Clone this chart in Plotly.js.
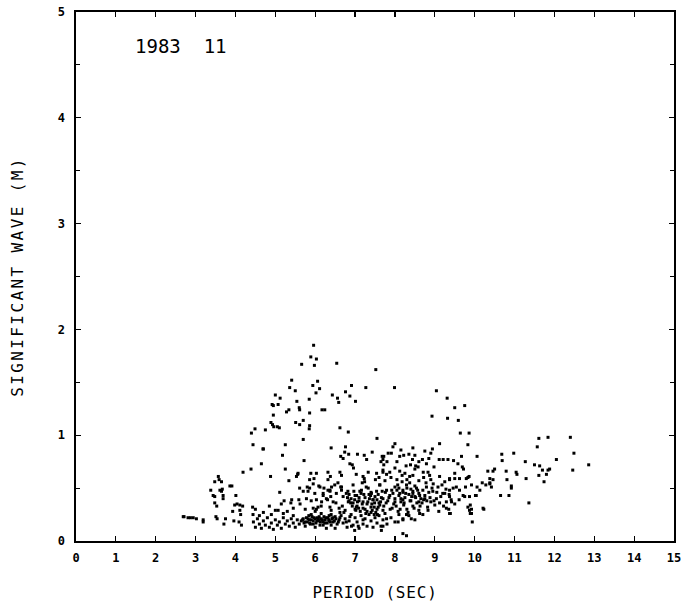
<!DOCTYPE html>
<html>
<head>
<meta charset="utf-8">
<script src="https://cdn.plot.ly/plotly-3.0.1.min.js"></script>
<style>
  html, body { margin: 0; padding: 0; background: #fff; }
  #chart { width: 681px; height: 602px; }
  .ytitle { letter-spacing: 2.4px; }
  .xtitle { letter-spacing: 0.8px; }
</style>
</head>
<body>
<div id="chart"></div>
<script>
// Period (s), significant wave height (m) pairs
const upperPoints = [
  [5.96,1.85],[5.89,1.74],[6.03,1.72],[5.66,1.67],[5.98,1.66],[6.54,1.68],[7.52,1.62],
  [5.41,1.52],[6.06,1.51],[5.94,1.47],[5.36,1.45],[5.50,1.42],[6.11,1.44],[6.02,1.40],
  [6.91,1.47],[7.27,1.45],[7.99,1.45],[6.76,1.41],[6.43,1.38],[6.56,1.35],[6.59,1.31],
  [6.87,1.37],[7.01,1.32],[5.00,1.38],[5.12,1.35],[4.92,1.29],[4.95,1.28],[5.07,1.29],
  [5.54,1.32],[5.85,1.34],[5.60,1.26],[5.61,1.24],[5.28,1.22],[5.34,1.24],[5.86,1.21],
  [6.17,1.24],[6.24,1.24],[4.95,1.19],[4.89,1.12],[4.93,1.10],[4.96,1.08],[5.05,1.08],
  [5.10,1.07],[5.51,1.12],[5.61,1.10],[5.70,1.14],[5.86,1.09],[5.85,1.06],[4.40,1.02],
  [4.49,1.06],[4.75,1.05],[6.62,1.07],[6.83,1.03],[5.70,0.96],[7.55,0.97],[9.04,1.42],
  [9.31,1.35],[9.50,1.26],[8.93,1.18],[9.32,1.16],[9.59,1.14],[9.64,1.02],[9.86,1.02],
  [9.83,0.91],[9.12,0.92],[4.44,0.91],[5.25,0.91],[6.40,0.88],[8.00,0.92],[9.75,1.28],
  [11.61,0.97],[11.84,0.98],[12.40,0.98],[10.06,0.80]
];

const leftPoints = [
  [2.69,0.23],[2.71,0.23],[2.81,0.22],[2.87,0.22],[2.94,0.22],[3.02,0.21],[3.19,0.20],
  [3.19,0.18],[3.48,0.56],[3.57,0.61],[3.59,0.58],[3.65,0.56],[3.38,0.48],[3.44,0.43],
  [3.48,0.42],[3.67,0.49],[3.65,0.47],[3.69,0.43],[3.69,0.40],[3.86,0.52],[3.48,0.36],
  [3.53,0.33],[3.51,0.23],[3.54,0.21],[3.75,0.21],[3.71,0.16],[4.01,0.43],[3.98,0.34],
  [4.04,0.35],[4.11,0.34],[4.18,0.33],[3.93,0.28],[4.11,0.29],[4.13,0.25],[3.96,0.19],
  [4.09,0.18],[4.15,0.15],[4.43,0.32],[4.44,0.25],[4.19,0.65],[4.39,0.68],[4.65,0.73],
  [4.69,0.87],[4.88,0.61],[5.18,0.81],[5.25,0.68],[5.56,0.63],[5.11,0.46],[5.34,0.57],
  [5.41,0.39],[5.39,0.36],[3.91,0.52],[3.61,0.48],[4.70,0.87],[5.72,0.76],[5.22,0.38],
  [5.57,0.64],[5.53,0.61],[4.50,0.30],[4.70,0.27],[4.85,0.33],[5.00,0.29],[5.15,0.35],
  [5.30,0.28],[5.45,0.31]
];

const middlePoints = [
  [5.89,0.64],[6.03,0.64],[5.97,0.59],[5.86,0.58],[6.32,0.65],[6.32,0.58],[6.76,0.89],
  [6.74,0.84],[6.64,0.80],[6.70,0.78],[6.84,0.82],[6.87,0.73],[6.93,0.72],[6.96,0.69],
  [7.06,0.82],[7.23,0.81],[7.29,0.77],[7.43,0.84],[7.68,0.80],[7.70,0.77],[7.70,0.67],
  [6.62,0.65],[6.66,0.62],[6.57,0.55],[6.64,0.51],[6.66,0.48],[6.41,0.51],[6.37,0.47],
  [6.39,0.42],[6.31,0.39],[6.45,0.37],[6.37,0.32],[6.32,0.48],[5.86,0.50],[5.82,0.47],
  [5.99,0.45],[6.03,0.39],[6.16,0.37],[6.07,0.32],[5.95,0.31],[6.03,0.30],[6.09,0.52],
  [6.22,0.50],[6.20,0.43],[5.61,0.50],[5.70,0.47],[5.59,0.39],[5.78,0.40],[5.07,0.29],
  [6.81,0.41],[6.83,0.37],[6.89,0.36],[6.99,0.39],[7.03,0.32],[7.09,0.31],[7.12,0.47],
  [7.18,0.55],[7.23,0.59],[7.24,0.56],[7.33,0.50],[7.39,0.43],[7.45,0.39],[7.49,0.36],
  [7.58,0.32],[7.51,0.58],[7.62,0.53],[7.68,0.47],[7.70,0.40],[7.64,0.37],[7.43,0.29],
  [7.48,0.25],[7.56,0.25],
  [10.33,0.66],[10.28,0.53],[10.38,0.55],[7.95,0.89],[7.91,0.83],[7.83,0.83],[7.72,0.80],
  [7.80,0.75],[7.72,0.72],[8.12,0.80],[8.22,0.81],[8.35,0.82],[8.50,0.81],[8.44,0.77],
  [8.39,0.72],[8.52,0.71],[8.69,0.77],[8.79,0.73],[8.85,0.78],[8.90,0.83],[8.94,0.87],
  [9.11,0.77],[9.21,0.77],[9.33,0.77],[9.47,0.76],[9.58,0.73],[9.69,0.70],[9.72,0.68],
  [9.67,0.80],[7.70,0.65],[7.79,0.63],[7.87,0.65],[8.00,0.69],[8.12,0.66],[8.25,0.64],
  [8.37,0.61],[8.50,0.68],[8.58,0.70],[8.71,0.65],[8.83,0.65],[8.87,0.62],[8.96,0.54],
  [9.12,0.61],[9.25,0.56],[9.37,0.59],[9.50,0.64],[9.62,0.59],[9.79,0.59],[9.86,0.61],
  [9.77,0.51],[9.92,0.53],[10.06,0.51],[10.13,0.48],[9.62,0.48],[9.71,0.43],[9.87,0.42],
  [10.04,0.43],[9.83,0.32],[9.87,0.29],[9.92,0.26],[10.21,0.31],[9.37,0.26],[9.29,0.31],
  [9.12,0.36],[9.04,0.40],[9.37,0.42],[9.42,0.37],[8.70,0.25],[8.62,0.26],[8.41,0.21],
  [8.29,0.25],[8.08,0.18],[8.20,0.20],[7.79,0.21],[7.70,0.14],[7.66,0.10],[8.20,0.07],
  [8.29,0.05]
];

const rightPoints = [
  [10.68,0.82],[10.98,0.83],[10.69,0.76],[11.27,0.75],[11.57,0.89],[12.49,0.83],[12.05,0.77],
  [12.46,0.67],[12.86,0.72],[11.50,0.72],[11.63,0.71],[11.70,0.67],[11.84,0.67],[11.88,0.68],
  [11.61,0.62],[11.80,0.63],[11.74,0.56],[10.46,0.66],[10.50,0.68],[10.79,0.66],[11.04,0.65],
  [11.06,0.63],[10.81,0.58],[11.29,0.59],[10.38,0.59],[10.46,0.58],[10.19,0.55],[10.38,0.54],
  [10.42,0.51],[10.92,0.52],[10.92,0.50],[10.86,0.43],[11.36,0.36],[10.65,0.43],[10.23,0.30],
  [9.94,0.18],[9.25,0.45],[9.36,0.44],[9.46,0.50],[9.61,0.39],[9.75,0.42],[9.89,0.34],
  [9.92,0.30],[10.02,0.43],[9.41,0.39],[9.29,0.37],[9.39,0.26],[9.89,0.26],[9.37,0.58],
  [9.50,0.59],[9.83,0.60]
];

const corePoints = [
  [6.38,0.61],[7.03,0.63],[7.20,0.61],[7.33,0.65],[7.54,0.64],
  [5.80,0.51],[5.95,0.54],[6.12,0.51],[6.20,0.45],[6.37,0.48],[6.49,0.53],[6.53,0.45],
  [6.66,0.51],[6.70,0.42],[6.82,0.47],[6.95,0.53],[7.04,0.43],[7.16,0.48],[7.28,0.51],
  [7.41,0.45],[7.54,0.47],[7.62,0.53],[7.79,0.48],[7.87,0.43],[8.00,0.51],[8.12,0.45],
  [8.20,0.48],[8.29,0.53],[8.45,0.45],[8.54,0.50],[8.62,0.43],[8.79,0.51],[8.95,0.47],
  [9.08,0.51],[9.20,0.45],[9.37,0.48],[9.54,0.51],
  [5.62,0.35],[5.75,0.30],[5.90,0.38],[6.00,0.28],[6.15,0.33],[6.28,0.40],[6.40,0.29],
  [6.52,0.36],[6.60,0.31],[6.72,0.27],[6.85,0.38],[6.93,0.33],[7.02,0.29],[7.10,0.41],
  [7.18,0.35],[7.25,0.30],[7.32,0.37],[7.40,0.27],[7.48,0.32],[7.55,0.39],[7.62,0.34],
  [7.70,0.29],[7.78,0.36],[7.85,0.41],[7.93,0.31],[8.00,0.37],[8.08,0.28],[8.15,0.40],
  [8.22,0.34],[8.30,0.30],[8.38,0.38],[8.45,0.33],[8.52,0.41],[8.60,0.29],[8.68,0.36],
  [8.75,0.40],[8.82,0.32],[8.90,0.37],[9.00,0.34],[9.10,0.28],[9.22,0.33],[9.35,0.30],
  [9.50,0.35],
  [6.85,0.44],[6.90,0.40],[6.95,0.36],[7.00,0.43],[7.05,0.33],[7.10,0.38],[7.15,0.45],
  [7.20,0.31],[7.25,0.41],[7.30,0.35],[7.35,0.44],[7.40,0.32],[7.45,0.39],[7.50,0.42],
  [7.55,0.30],[7.60,0.36],[7.00,0.30],[7.20,0.37],[7.40,0.46],[7.30,0.28],
  [7.95,0.45],[8.00,0.40],[8.05,0.48],[8.10,0.43],[8.15,0.37],[8.20,0.46],[8.25,0.41],
  [8.30,0.50],[8.35,0.44],[8.40,0.38],[8.45,0.47],[8.50,0.42],[8.55,0.36],[8.60,0.45],
  [8.65,0.40],[8.70,0.48],[8.75,0.43],[8.80,0.38],[8.85,0.46],[8.20,0.39],[8.40,0.49],
  [8.60,0.37],[8.10,0.50],[8.50,0.52]
];

const coreExtraPoints = [
  [6.62,0.27],[6.68,0.33],[6.75,0.29],[6.78,0.45],[6.97,0.47],[7.06,0.37],[7.13,0.28],
  [7.22,0.44],[7.27,0.26],[7.36,0.40],[7.42,0.35],[7.52,0.27],[7.58,0.44],[7.66,0.41],
  [7.72,0.33],[7.76,0.46],[7.82,0.38],[7.88,0.30],[7.92,0.48],[7.97,0.35],
  [8.03,0.33],[8.07,0.53],[8.13,0.30],[8.18,0.56],[8.23,0.36],[8.27,0.45],[8.33,0.27],
  [8.37,0.55],[8.42,0.42],[8.48,0.31],[8.57,0.48],[8.63,0.33],[8.72,0.39],[8.78,0.55],
  [8.83,0.29],[8.88,0.41],[8.93,0.50],[8.98,0.38],[9.05,0.46],[9.15,0.42],[9.18,0.53],
  [9.28,0.49],
  [7.60,0.60],[7.75,0.57],[7.90,0.60],[8.05,0.58],[8.18,0.62],[8.30,0.58],[8.45,0.62],
  [8.60,0.57],[8.72,0.60],[8.90,0.58],[7.65,0.75],[8.05,0.75],[8.28,0.71],[8.60,0.75],
  [8.98,0.70],[8.15,0.86],[8.45,0.88],[8.75,0.85]
];

const bottomPoints = [
  [4.45,0.18],[4.50,0.13],[4.55,0.21],[4.60,0.16],[4.65,0.12],[4.70,0.19],[4.75,0.15],
  [4.80,0.22],[4.85,0.13],[4.90,0.17],[4.95,0.11],[5.00,0.20],[5.05,0.15],[5.10,0.18],
  [5.15,0.12],[5.20,0.22],[5.25,0.16],[5.30,0.19],[5.35,0.14],[5.40,0.21],[5.45,0.17],
  [5.50,0.13],[5.55,0.20],[5.60,0.16],[4.60,0.24],[4.90,0.25],[5.20,0.26],[5.45,0.24],
  [5.65,0.19],[5.70,0.21],[5.72,0.17],[5.78,0.22],[5.80,0.18],[5.85,0.20],[5.88,0.16],
  [5.92,0.23],[5.95,0.19],[6.00,0.21],[6.02,0.17],[6.05,0.22],[6.10,0.19],[6.12,0.15],
  [6.15,0.21],[6.20,0.18],[6.22,0.23],[6.25,0.20],[6.30,0.17],[6.32,0.22],[6.35,0.19],
  [6.40,0.15],[6.42,0.21],[6.45,0.18],[6.50,0.23],[6.55,0.16],[6.60,0.20],[5.75,0.14],
  [6.00,0.13],[6.28,0.12],[6.50,0.12],[5.90,0.25],[6.15,0.26],[6.40,0.25],
  [6.65,0.24],[6.70,0.17],[6.75,0.21],[6.80,0.13],[6.85,0.19],[6.90,0.25],[6.95,0.15],
  [7.00,0.22],[7.05,0.18],[7.10,0.12],[7.15,0.24],[7.20,0.16],[7.25,0.21],[7.30,0.14],
  [7.35,0.25],[7.40,0.19],[7.45,0.13],[7.50,0.22],[7.55,0.17],[7.60,0.24],[7.65,0.14],
  [7.70,0.20],[7.75,0.26],[7.80,0.16],[7.90,0.22],[8.00,0.18],[8.10,0.25],[8.20,0.21],
  [8.35,0.24],[8.50,0.20],[6.87,0.23],[6.78,0.18],[6.91,0.14],[6.99,0.10],[7.08,0.14],
  [7.20,0.20]
];

const bandExtraPoints = [
  [5.68,0.20],[5.74,0.18],[5.82,0.21],[5.86,0.17],[5.90,0.20],[5.97,0.22],[6.04,0.19],
  [6.08,0.21],[6.13,0.18],[6.18,0.20],[6.24,0.17],[6.27,0.22],[6.34,0.20],[6.38,0.18],
  [6.44,0.22],[6.48,0.19],[6.52,0.21],[6.58,0.18],[6.62,0.22],[5.95,0.16],[6.20,0.15],
  [6.35,0.24],[6.10,0.23],[5.84,0.24]
];

const chartTitle = "1983\u00A0\u00A011";
const xTitle = "PERIOD (SEC)";
const yTitle = "SIGNIFICANT WAVE (M)";

const allPoints = [].concat(upperPoints, leftPoints, middlePoints, rightPoints,
                            corePoints, coreExtraPoints, bottomPoints, bandExtraPoints);
const periods = allPoints.map(p => p[0]);
const heights = allPoints.map(p => p[1]);

const mono = "DejaVu Sans Mono, monospace";

const trace = {
  type: "scatter",
  mode: "markers",
  x: periods,
  y: heights,
  marker: { symbol: "square", size: 3, color: "#000", line: { width: 0 } },
  hoverinfo: "x+y"
};

const layout = {
  width: 681,
  height: 602,
  margin: { l: 76, r: 7, t: 12, b: 61 },
  paper_bgcolor: "#fff",
  plot_bgcolor: "#fff",
  showlegend: false,
  xaxis: {
    range: [0, 15],
    tickmode: "linear", tick0: 0, dtick: 1,
    ticks: "inside", ticklen: 5, tickwidth: 1.2, tickcolor: "#000",
    showline: true, linecolor: "#000", linewidth: 1.6, mirror: "ticks",
    showgrid: false, zeroline: false,
    tickfont: { family: mono, size: 12, color: "#000", weight: "bold" },
    ticklabelstandoff: 5,
    ticklabeloverflow: "allow",
    title: { text: xTitle, font: { family: mono, size: 16, color: "#000" }, standoff: 24 }
  },
  yaxis: {
    range: [0, 5],
    tickmode: "linear", tick0: 0, dtick: 1,
    ticks: "inside", ticklen: 5, tickwidth: 1.2, tickcolor: "#000",
    minor: { dtick: 0.5, ticks: "inside", ticklen: 4, tickwidth: 1, tickcolor: "#000" },
    showline: true, linecolor: "#000", linewidth: 1.6, mirror: "ticks",
    showgrid: false, zeroline: false,
    tickfont: { family: mono, size: 12, color: "#000", weight: "bold" },
    ticklabelstandoff: 7,
    ticklabeloverflow: "allow",
    title: { text: yTitle, font: { family: mono, size: 16, color: "#000" }, standoff: 30 }
  },
  annotations: [{
    text: chartTitle,
    xref: "paper", yref: "paper",
    x: 0.095, y: 0.935, xanchor: "left", yanchor: "middle",
    showarrow: false,
    font: { family: mono, size: 19, color: "#000" }
  }]
};

Plotly.newPlot("chart", [trace], layout, { displayModeBar: false, staticPlot: true });
</script>
</body>
</html>
